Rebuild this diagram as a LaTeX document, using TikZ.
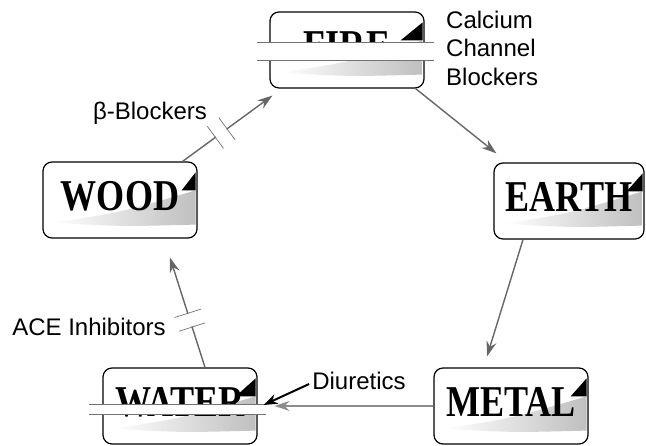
\documentclass[tikz,border=0pt]{standalone}
\usepackage{graphicx}
\usepackage{fontspec}
\setmainfont{Liberation Serif}
\newfontfamily\arialf{Liberation Sans}
\usetikzlibrary{arrows.meta,calc,backgrounds}
\tikzset{
  elem/.style={draw=black, line width=1.2pt, rounded corners=9pt, minimum width=154pt, minimum height=76pt, inner sep=0pt, font=\bfseries\fontsize{44}{44}\selectfont},
  lbl/.style={font=\arialf\fontsize{24}{28.5}\selectfont, inner sep=0pt},
  arr/.style={draw=black!60, line width=1.4pt, -{Stealth[length=15pt,width=10pt]}},
  brk/.style={sloped, fill=white, inner sep=0pt, minimum width=13pt, minimum height=26pt},
  brkline/.style={draw=black!55, line width=0.7pt},
  band/.style={draw=black!55, line width=0.8pt},
}
\newcommand\elemtext[1]{\raisebox{4pt}[\height][0pt]{\scalebox{0.82}[1]{#1}}}
\newcommand\ElemDeco[2]{%
  \shade[left color=white, right color=gray!50] ($(#1.south west)+(10,16)$) .. controls ($(#1.south)+(0,26)$) .. ($(#1.north east)+(-2,-29)$) -- ($(#1.south east)+(-2,14)$) .. controls ($(#1.south)+(0,12)$) .. ($(#1.south west)+(10,16)$) -- cycle;
  \fill[black] ($(#1.north east)+(-#2,-29)$) -- ($(#1.north east)+(-2,-11)$) -- ($(#1.north east)+(-2,-29)$) -- cycle;
}
\begin{document}
\begin{tikzpicture}[x=1pt,y=1pt]
\useasboundingbox (0,0) rectangle (646,446);
% element boxes
\node[elem] (fire) at (347,396) {\elemtext{FIRE}};
\node[elem] (wood) at (120,246) {\elemtext{WOOD}};
\node[elem, minimum width=150pt] (earth) at (569,245) {\elemtext{EARTH}};
\node[elem] (metal) at (511,40) {\elemtext{METAL}};
\node[elem] (water) at (180,40) {\elemtext{WATER}};
\begin{scope}[on background layer]
  \ElemDeco{fire}{24}
  \ElemDeco{wood}{16}
  \ElemDeco{earth}{18}
  \ElemDeco{metal}{18}
  \ElemDeco{water}{22}
\end{scope}
% blocking bands
\fill[white] ($(fire.west)+(-12,-10)$) rectangle ($(fire.east)+(9,8)$);
\draw[band] ($(fire.west)+(-12,8)$) -- ($(fire.east)+(9,8)$) ($(fire.west)+(-12,-10)$) -- ($(fire.east)+(9,-10)$);
\fill[white] ($(water.west)+(-13,-8)$) rectangle ($(water.east)+(8,2)$);
\draw[band] ($(water.west)+(-13,2)$) -- ($(water.east)+(8,2)$) ($(water.west)+(-13,-8)$) -- ($(water.east)+(8,-8)$);
% labels
\node[lbl, align=left, anchor=west] (ccb) at (446,398) {Calcium\\Channel\\Blockers};
\node[lbl] (beta) at (150,333) {β-Blockers};
\node[lbl] (ace) at (89,119) {ACE Inhibitors};
\node[lbl] (diur) at (359,65) {Diuretics};
% cycle arrows
\draw[arr] ([xshift=-15pt]wood.north east) -- node[brk,pos=.43] (b1) {} ([shift={(3pt,-7pt)}]fire.south west);
\draw[brkline] (b1.north west) -- (b1.south west) (b1.north east) -- (b1.south east);
\draw[arr] ([xshift=-9pt]fire.south east) -- ([shift={(3pt,9pt)}]earth.north west);
\draw[arr] ([xshift=-46pt]earth.south) -- ([shift={(-24pt,11pt)}]metal.north);
\draw[arr, draw=black!45] (metal.west) -- ([xshift=17pt]water.east);
\draw[arr] ([xshift=25pt]water.north) -- node[brk,pos=.43] (b2) {} ([shift={(50pt,-19pt)}]wood.south);
\draw[brkline] (b2.north west) -- (b2.south west) (b2.north east) -- (b2.south east);
% diuretics pointer
\draw[line width=2pt, -{Stealth[length=14pt,width=10pt]}] ([shift={(-3pt,-3pt)}]diur.west) -- ([shift={(6pt,1pt)}]water.east);
\end{tikzpicture}
\end{document}
